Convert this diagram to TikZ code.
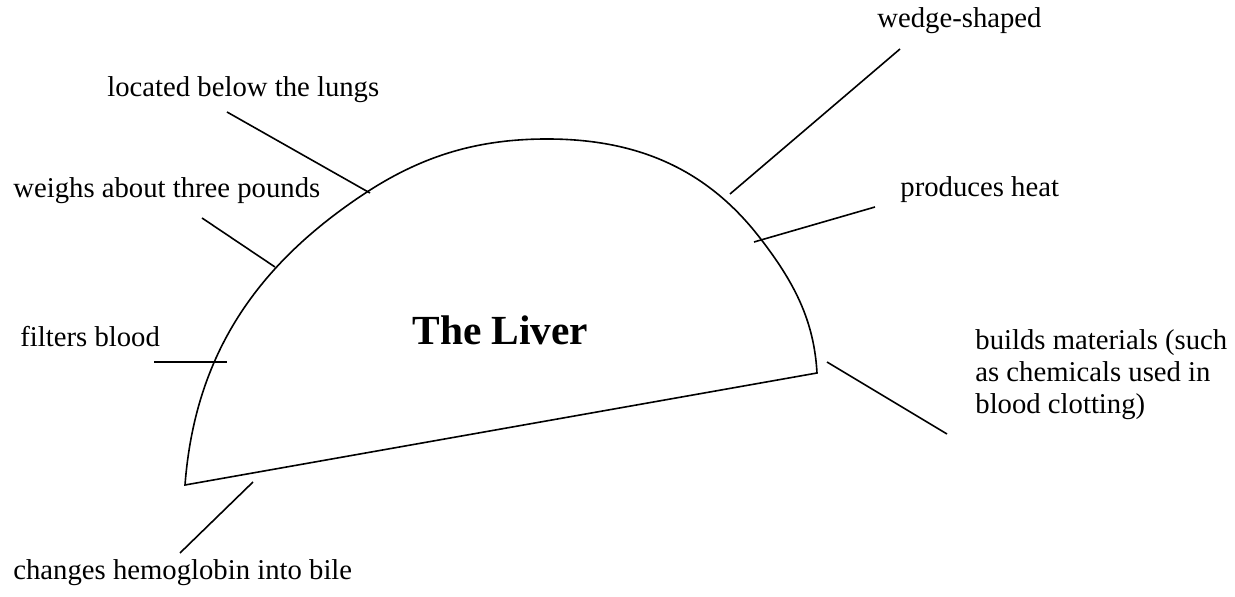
\documentclass[tikz,border=0pt]{standalone}
\usepackage{fontspec}
\setmainfont{Liberation Serif}
\usetikzlibrary{positioning}

\begin{document}
\begin{tikzpicture}[x=0.5pt,y=-0.5pt,
    fact/.style={anchor=base west, inner sep=0pt, font=\fontsize{14.35}{16}\selectfont},
    pointer/.style={line width=0.8pt}]
\useasboundingbox (0,0) rectangle (1235,597);

% The liver shape
\draw[line width=0.8pt] (185,485) .. controls (195,354) and (257,264) .. (367,192)
  .. controls (424,155) and (479,139) .. (547,139)
  .. controls (636,139) and (706,168) .. (760,238)
  .. controls (794,282) and (814,320) .. (817,373) -- cycle;
\node[anchor=base west, inner sep=0pt, font=\fontsize{20.7}{24}\selectfont\bfseries] (title) at (412,345) {The Liver};

% Facts round it
\node[fact] (lungs) at (107,97) {located below the lungs};
\node[fact] (weight) at (13,198) {weighs about three pounds};
\node[fact] (filter) at (20,347) {filters blood};
\node[fact] (wedge) at (877,28) {wedge-shaped};
\node[fact] (heat) at (900,197) {produces heat};
\node[fact, align=left] (build) at (975,414) {builds materials (such\\as chemicals used in\\blood clotting)};
\node[fact] (bile) at (13,580) {changes hemoglobin into bile};

% Pointers
\coordinate (lungsA) at (227,112);  \coordinate (lungsB) at (370,193);
\coordinate (weightA) at (202,218); \coordinate (weightB) at (275,267);
\coordinate (filterA) at (154,362); \coordinate (filterB) at (227,362);
\coordinate (wedgeA) at (900,49);   \coordinate (wedgeB) at (730,194);
\coordinate (heatA) at (875,207);   \coordinate (heatB) at (754,242);
\coordinate (buildA) at (947,434);  \coordinate (buildB) at (827,362);
\coordinate (bileA) at (180,553);   \coordinate (bileB) at (253,482);
\foreach \p in {lungs,weight,filter,wedge,heat,build,bile}
  \draw[pointer] (\p A) -- (\p B);
\end{tikzpicture}
\end{document}
